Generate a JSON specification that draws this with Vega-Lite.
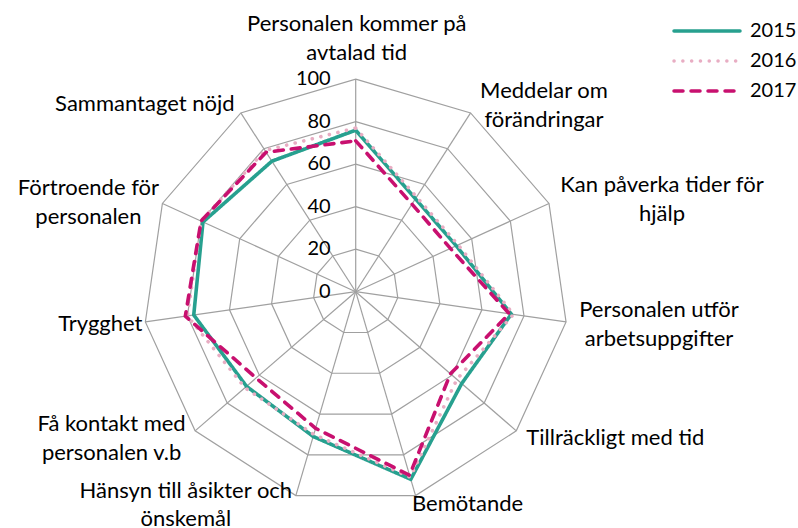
{
  "$schema": "https://vega.github.io/schema/vega-lite/v6.json",
  "width": 798,
  "height": 528,
  "autosize": {"type": "none"},
  "padding": 0,
  "background": "white",
  "config": {
    "view": {"stroke": null},
    "font": "Lato",
    "legend": {
      "orient": "none",
      "legendX": 697,
      "legendY": 21,
      "padding": 0,
      "symbolType": "M-6.6,0H6.6",
      "symbolSize": 100,
      "symbolStrokeWidth": 3.5,
      "labelFont": "Lato",
      "labelFontSize": 20,
      "labelColor": "#000000",
      "labelOffset": 33,
      "rowPadding": 10
    }
  },
  "datasets": {
    "cats": [
      {"idx": 0, "label": "Personalen kommer på\navtalad tid", "2015": 76, "2016": 77, "2017": 71},
      {"idx": 1, "label": "Meddelar om\nförändringar", "2015": 52, "2016": 53, "2017": 49},
      {"idx": 2, "label": "Kan påverka tider för\nhjälp", "2015": 52, "2016": 53, "2017": 49},
      {"idx": 3, "label": "Personalen utför\narbetsuppgifter", "2015": 74, "2016": 75, "2017": 73},
      {"idx": 4, "label": "Tillräckligt med tid", "2015": 66, "2016": 63, "2017": 59},
      {"idx": 5, "label": "Bemötande", "2015": 92, "2016": 91, "2017": 90},
      {"idx": 6, "label": "Hänsyn till åsikter och\nönskemål", "2015": 71, "2016": 70, "2017": 67},
      {"idx": 7, "label": "Få kontakt med\npersonalen v.b", "2015": 68, "2016": 69, "2017": 62},
      {"idx": 8, "label": "Trygghet", "2015": 77, "2016": 80, "2017": 81},
      {"idx": 9, "label": "Förtroende för\npersonalen", "2015": 79, "2016": 80, "2017": 80},
      {"idx": 10, "label": "Sammantaget nöjd", "2015": 73, "2016": 79, "2017": 78}
    ],
    "ticks": [{"t": 0}, {"t": 20}, {"t": 40}, {"t": 60}, {"t": 80}, {"t": 100}]
  },
  "layer": [
    {
      "data": {"name": "cats"},
      "transform": [
        {"calculate": "datum.idx*2*PI/11", "as": "ang"},
        {"calculate": "[20,40,60,80,100]", "as": "ring"},
        {"flatten": ["ring"]},
        {"calculate": "datum.ring*sin(datum.ang)", "as": "gx"},
        {"calculate": "datum.ring*cos(datum.ang)", "as": "gy"}
      ],
      "mark": {"type": "line", "interpolate": "linear-closed", "color": "#a0a0a0", "strokeWidth": 1.2},
      "encoding": {
        "x": {"field": "gx", "type": "quantitative", "scale": {"domain": [-167.39, 208.14]}, "axis": null},
        "y": {"field": "gy", "type": "quantitative", "scale": {"domain": [-111.2, 137.27]}, "axis": null},
        "detail": {"field": "ring", "type": "nominal"},
        "order": {"field": "idx", "type": "quantitative"}
      }
    },
    {
      "data": {"name": "cats"},
      "transform": [
        {"calculate": "datum.idx*2*PI/11", "as": "ang"},
        {"calculate": "0", "as": "cx"},
        {"calculate": "100*sin(datum.ang)", "as": "sx"},
        {"calculate": "100*cos(datum.ang)", "as": "sy"}
      ],
      "mark": {"type": "rule", "color": "#a0a0a0", "strokeWidth": 1.2},
      "encoding": {
        "x": {"field": "cx", "type": "quantitative", "scale": {"domain": [-167.39, 208.14]}, "axis": null},
        "y": {"field": "cx", "type": "quantitative", "scale": {"domain": [-111.2, 137.27]}, "axis": null},
        "x2": {"field": "sx"},
        "y2": {"field": "sy"}
      }
    },
    {
      "data": {"name": "cats"},
      "transform": [
        {"calculate": "datum.idx*2*PI/11", "as": "ang"},
        {"fold": ["2015", "2016", "2017"], "as": ["year", "value"]},
        {"calculate": "datum.value*sin(datum.ang)", "as": "px"},
        {"calculate": "datum.value*cos(datum.ang)", "as": "py"}
      ],
      "mark": {"type": "line", "interpolate": "linear-closed", "strokeCap": "round", "strokeJoin": "round", "strokeWidth": 3.6},
      "encoding": {
        "x": {"field": "px", "type": "quantitative", "scale": {"domain": [-167.39, 208.14]}, "axis": null},
        "y": {"field": "py", "type": "quantitative", "scale": {"domain": [-111.2, 137.27]}, "axis": null},
        "order": {"field": "idx", "type": "quantitative"},
        "color": {
          "field": "year", "type": "nominal",
          "scale": {"domain": ["2015", "2016", "2017"], "range": ["#27a08f", "#e8adc3", "#c8106f"]},
          "legend": {"title": null, "encode": {"symbols": {"update": {"strokeCap": {"value": "round"}}}}}
        },
        "strokeDash": {
          "field": "year", "type": "nominal",
          "scale": {"domain": ["2015", "2016", "2017"], "range": [[1, 0], [0.1, 8.7], [9, 8]]},
          "legend": {"title": null}
        }
      }
    },
    {
      "data": {"name": "ticks"},
      "transform": [{"calculate": "0", "as": "cx"}],
      "mark": {"type": "text", "align": "right", "baseline": "middle", "dx": -25, "fontSize": 20, "font": "Lato", "color": "#000000"},
      "encoding": {
        "x": {"field": "cx", "type": "quantitative", "scale": {"domain": [-167.39, 208.14]}, "axis": null},
        "y": {"field": "t", "type": "quantitative", "scale": {"domain": [-111.2, 137.27]}, "axis": null},
        "text": {"field": "t", "type": "quantitative"}
      }
    },
    {
      "data": {"name": "cats"},
      "transform": [{"calculate": "100*sin(datum.idx*2*PI/11)", "as": "lx"}, {"calculate": "100*cos(datum.idx*2*PI/11)", "as": "ly"}],
      "layer": [
        {"transform": [{"filter": "datum.idx==0"}], "mark": {"type": "text", "align": "center", "lineBreak": "\n", "fontSize": 22, "lineHeight": 29, "font": "Lato", "color": "#000000", "dx": 1, "dy": -55}},
        {"transform": [{"filter": "datum.idx==1"}], "mark": {"type": "text", "align": "center", "lineBreak": "\n", "fontSize": 22, "lineHeight": 29, "font": "Lato", "color": "#000000", "dx": 73.4, "dy": -22}},
        {"transform": [{"filter": "datum.idx==2"}], "mark": {"type": "text", "align": "center", "lineBreak": "\n", "fontSize": 22, "lineHeight": 29, "font": "Lato", "color": "#000000", "dx": 113, "dy": -18}},
        {"transform": [{"filter": "datum.idx==3"}], "mark": {"type": "text", "align": "center", "lineBreak": "\n", "fontSize": 22, "lineHeight": 29, "font": "Lato", "color": "#000000", "dx": 93, "dy": -11.5}},
        {"transform": [{"filter": "datum.idx==4"}], "mark": {"type": "text", "align": "center", "lineBreak": "\n", "fontSize": 22, "lineHeight": 29, "font": "Lato", "color": "#000000", "dx": 99, "dy": 7}},
        {"transform": [{"filter": "datum.idx==5"}], "mark": {"type": "text", "align": "center", "lineBreak": "\n", "fontSize": 22, "lineHeight": 29, "font": "Lato", "color": "#000000", "dx": 52, "dy": 8.5}},
        {"transform": [{"filter": "datum.idx==6"}], "mark": {"type": "text", "align": "center", "lineBreak": "\n", "fontSize": 22, "lineHeight": 28, "font": "Lato", "color": "#000000", "dx": -110, "dy": -5}},
        {"transform": [{"filter": "datum.idx==7"}], "mark": {"type": "text", "align": "center", "lineBreak": "\n", "fontSize": 22, "lineHeight": 29, "font": "Lato", "color": "#000000", "dx": -83.5, "dy": -7}},
        {"transform": [{"filter": "datum.idx==8"}], "mark": {"type": "text", "align": "center", "lineBreak": "\n", "fontSize": 22, "lineHeight": 29, "font": "Lato", "color": "#000000", "dx": -45, "dy": 2}},
        {"transform": [{"filter": "datum.idx==9"}], "mark": {"type": "text", "align": "center", "lineBreak": "\n", "fontSize": 22, "lineHeight": 29, "font": "Lato", "color": "#000000", "dx": -74, "dy": -15}},
        {"transform": [{"filter": "datum.idx==10"}], "mark": {"type": "text", "align": "center", "lineBreak": "\n", "fontSize": 22, "lineHeight": 29, "font": "Lato", "color": "#000000", "dx": -96, "dy": -9}}
      ],
      "encoding": {
        "x": {"field": "lx", "type": "quantitative", "scale": {"domain": [-167.39, 208.14]}, "axis": null},
        "y": {"field": "ly", "type": "quantitative", "scale": {"domain": [-111.2, 137.27]}, "axis": null},
        "text": {"field": "label", "type": "nominal"}
      }
    }
  ]
}
